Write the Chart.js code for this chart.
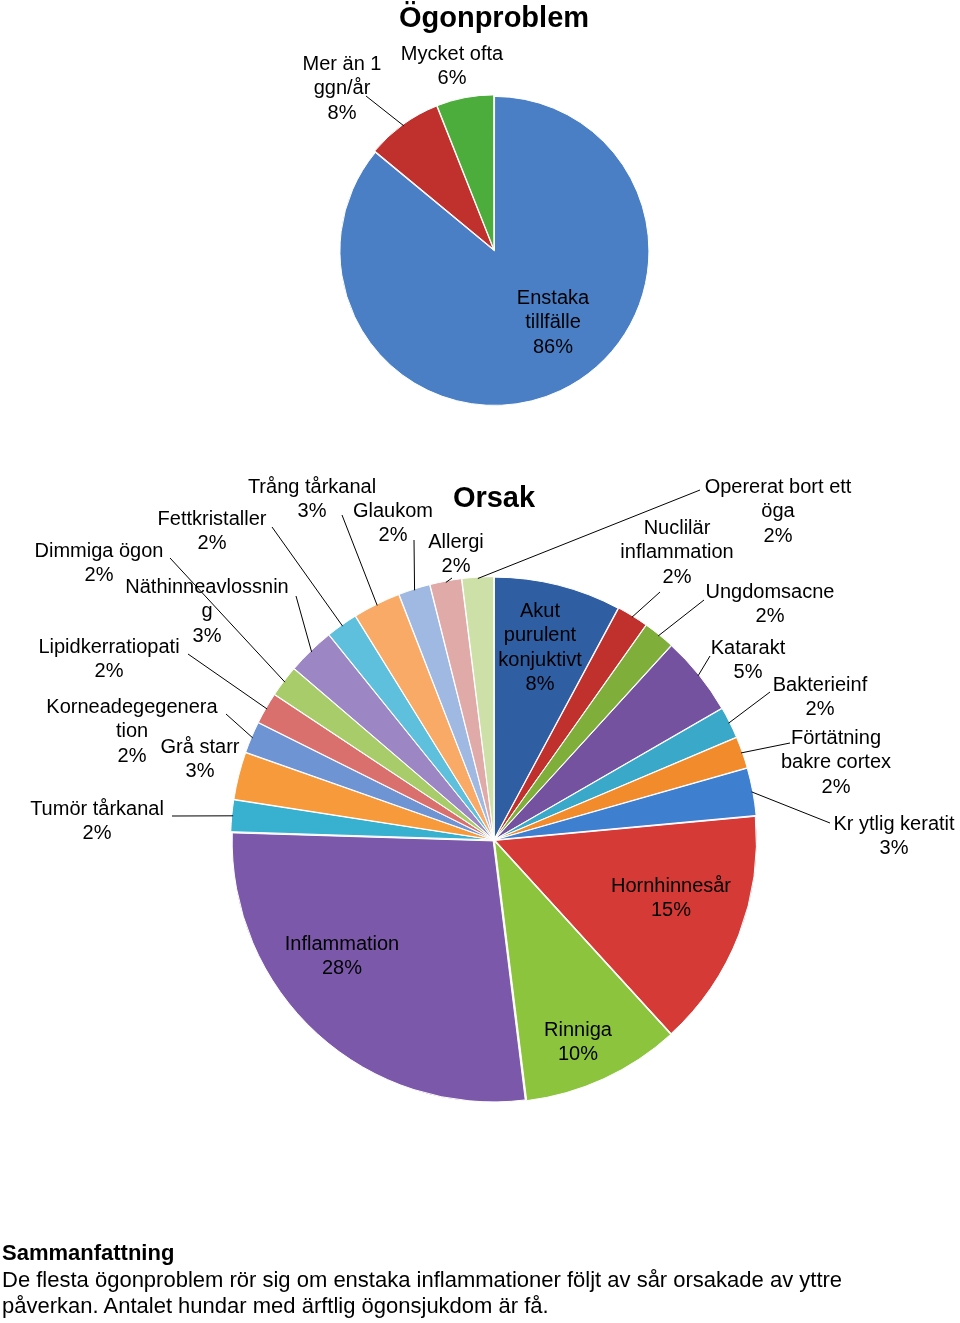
<!DOCTYPE html>
<html><head><meta charset="utf-8">
<script src="https://cdn.jsdelivr.net/npm/chart.js@4.4.1/dist/chart.umd.min.js"></script>
<style>
body{margin:0;width:960px;height:1323px;position:relative;background:#fff;font-family:"Liberation Sans",Arial,sans-serif;overflow:hidden}
canvas{position:absolute;left:0;top:0}
#sum{position:absolute;left:2px;top:1240px;font-size:22px;line-height:26.5px;color:#000}
</style></head><body>
<canvas id="c1" width="960" height="1323"></canvas>
<canvas id="c2" width="960" height="1323"></canvas>
<div id="sum"><b>Sammanfattning</b><br>De flesta ögonproblem rör sig om enstaka inflammationer följt av sår orsakade av yttre<br>påverkan. Antalet hundar med ärftlig ögonsjukdom är få.</div>
<script>
// ---- data ----
const problemLabels = ["Enstaka tillfälle","Mer än 1 ggn/år","Mycket ofta"];
const problemValues = [86, 8, 6];
const causeLabels = ["Akut purulent konjuktivt","Nuclilär inflammation","Ungdomsacne","Katarakt","Bakterieinf","Förtätning bakre cortex","Kr ytlig keratit","Hornhinnesår","Rinniga","Inflammation","Tumör tårkanal","Grå starr","Korneadegegeneration","Lipidkerratiopati","Dimmiga ögon","Näthinneavlossning","Fettkristaller","Trång tårkanal","Glaukom","Allergi","Opererat bort ett öga"];
const causeValues = [8,2,2,5,2,2,3,15,10,28,2,3,2,2,2,3,2,3,2,2,2];

const problemColors = ["#4a7fc6","#c0302c","#4cad3c"];
const causeColors = ["#2f5ea3","#c0302c","#7fae3a","#7452a0","#3aa8c8","#f28b2c","#3f7fd0","#d63a36","#8cc43e","#7c58aa","#38b0d0","#f79a3c","#6e94d4","#d9706e","#a8cc6a","#9c86c4","#5ec0dc","#f8aa66","#9fb9e2","#e0aaa8","#cde0a8"];

// label layout (text positions; lines go to the slice edge)
const problemLabelPos = [
 {i:0,x:553,y:298,lines:["Enstaka","tillfälle","86%"]},
 {i:1,x:342,y:64,lines:["Mer än 1","ggn/år","8%"],from:[366,96]},
 {i:2,x:452,y:54,lines:["Mycket ofta","6%"]}
];
const causeLabelPos = [
 {i:0,x:540,y:611,lines:["Akut","purulent","konjuktivt","8%"]},
 {i:1,x:677,y:528,lines:["Nuclilär","inflammation","2%"],from:[660,592]},
 {i:2,x:770,y:592,lines:["Ungdomsacne","2%"],from:[704,600]},
 {i:3,x:748,y:648,lines:["Katarakt","5%"],from:[710,656]},
 {i:4,x:820,y:685,lines:["Bakterieinf","2%"],from:[770,692]},
 {i:5,x:836,y:738,lines:["Förtätning","bakre cortex","2%"],from:[790,743]},
 {i:6,x:894,y:824,lines:["Kr ytlig keratit","3%"],from:[830,823]},
 {i:7,x:671,y:886,lines:["Hornhinnesår","15%"]},
 {i:8,x:578,y:1030,lines:["Rinniga","10%"]},
 {i:9,x:342,y:944,lines:["Inflammation","28%"]},
 {i:10,x:97,y:809,lines:["Tumör tårkanal","2%"],from:[172,816]},
 {i:11,x:200,y:747,lines:["Grå starr","3%"]},
 {i:12,x:132,y:707,lines:["Korneadegegenera","tion","2%"],from:[226,714]},
 {i:13,x:109,y:647,lines:["Lipidkerratiopati","2%"],from:[188,654]},
 {i:14,x:99,y:551,lines:["Dimmiga ögon","2%"],from:[170,558]},
 {i:15,x:207,y:587,lines:["Näthinneavlossnin","g","3%"],from:[296,596]},
 {i:16,x:212,y:519,lines:["Fettkristaller","2%"],from:[272,527]},
 {i:17,x:312,y:487,lines:["Trång tårkanal","3%"],from:[342,515]},
 {i:18,x:393,y:511,lines:["Glaukom","2%"],from:[414,540]},
 {i:19,x:456,y:542,lines:["Allergi","2%"],from:[452,578]},
 {i:20,x:778,y:487,lines:["Opererat bort ett","öga","2%"],from:[700,490]}
];

function labelPlugin(pos, title, ty){
 return {id:'lbl',afterDraw(chart){
  const ctx=chart.ctx, meta=chart.getDatasetMeta(0);
  ctx.save();
  ctx.fillStyle='#000';ctx.textAlign='center';ctx.textBaseline='middle';
  ctx.font='bold 29px "Liberation Sans", Arial, sans-serif';
  ctx.fillText(title,494,ty);
  ctx.font='20px "Liberation Sans", Arial, sans-serif';
  ctx.strokeStyle='#000';ctx.lineWidth=1;
  pos.forEach(p=>{
   p.lines.forEach((l,k)=>ctx.fillText(l,p.x,p.y+k*24.5));
   if(p.from){
    const a=meta.data[p.i];
    const mid=(a.startAngle+a.endAngle)/2;
    const off=(a.options.offset||0);
    const r=a.outerRadius-4;
    const tx=a.x+Math.cos(mid)*(r+off), ty2=a.y+Math.sin(mid)*(r+off);
    ctx.beginPath();ctx.moveTo(p.from[0],p.from[1]);ctx.lineTo(tx,ty2);ctx.stroke();
   }
  });
  ctx.restore();
 }};
}

function shade(chart,c){
 return c;
}

Chart.defaults.animation=false;
new Chart(document.getElementById('c1'),{
 type:'pie',
 data:{labels:problemLabels,datasets:[{data:problemValues,backgroundColor:problemColors,borderColor:'#fff',borderWidth:1,offset:4}]},
 options:{responsive:false,layout:{padding:{left:338,right:310,top:94,bottom:1323-406}},
  plugins:{legend:{display:false},tooltip:{enabled:false}}},
 plugins:[labelPlugin(problemLabelPos,'Ögonproblem',19)]
});
new Chart(document.getElementById('c2'),{
 type:'pie',
 data:{labels:causeLabels,datasets:[{data:causeValues,backgroundColor:causeColors,borderColor:'#fff',borderWidth:1,offset:5}]},
 options:{responsive:false,layout:{padding:{left:230,right:202,top:576,bottom:1323-1104}},
  plugins:{legend:{display:false},tooltip:{enabled:false}}},
 plugins:[labelPlugin(causeLabelPos,'Orsak',499)]
});
</script>
</body></html>
